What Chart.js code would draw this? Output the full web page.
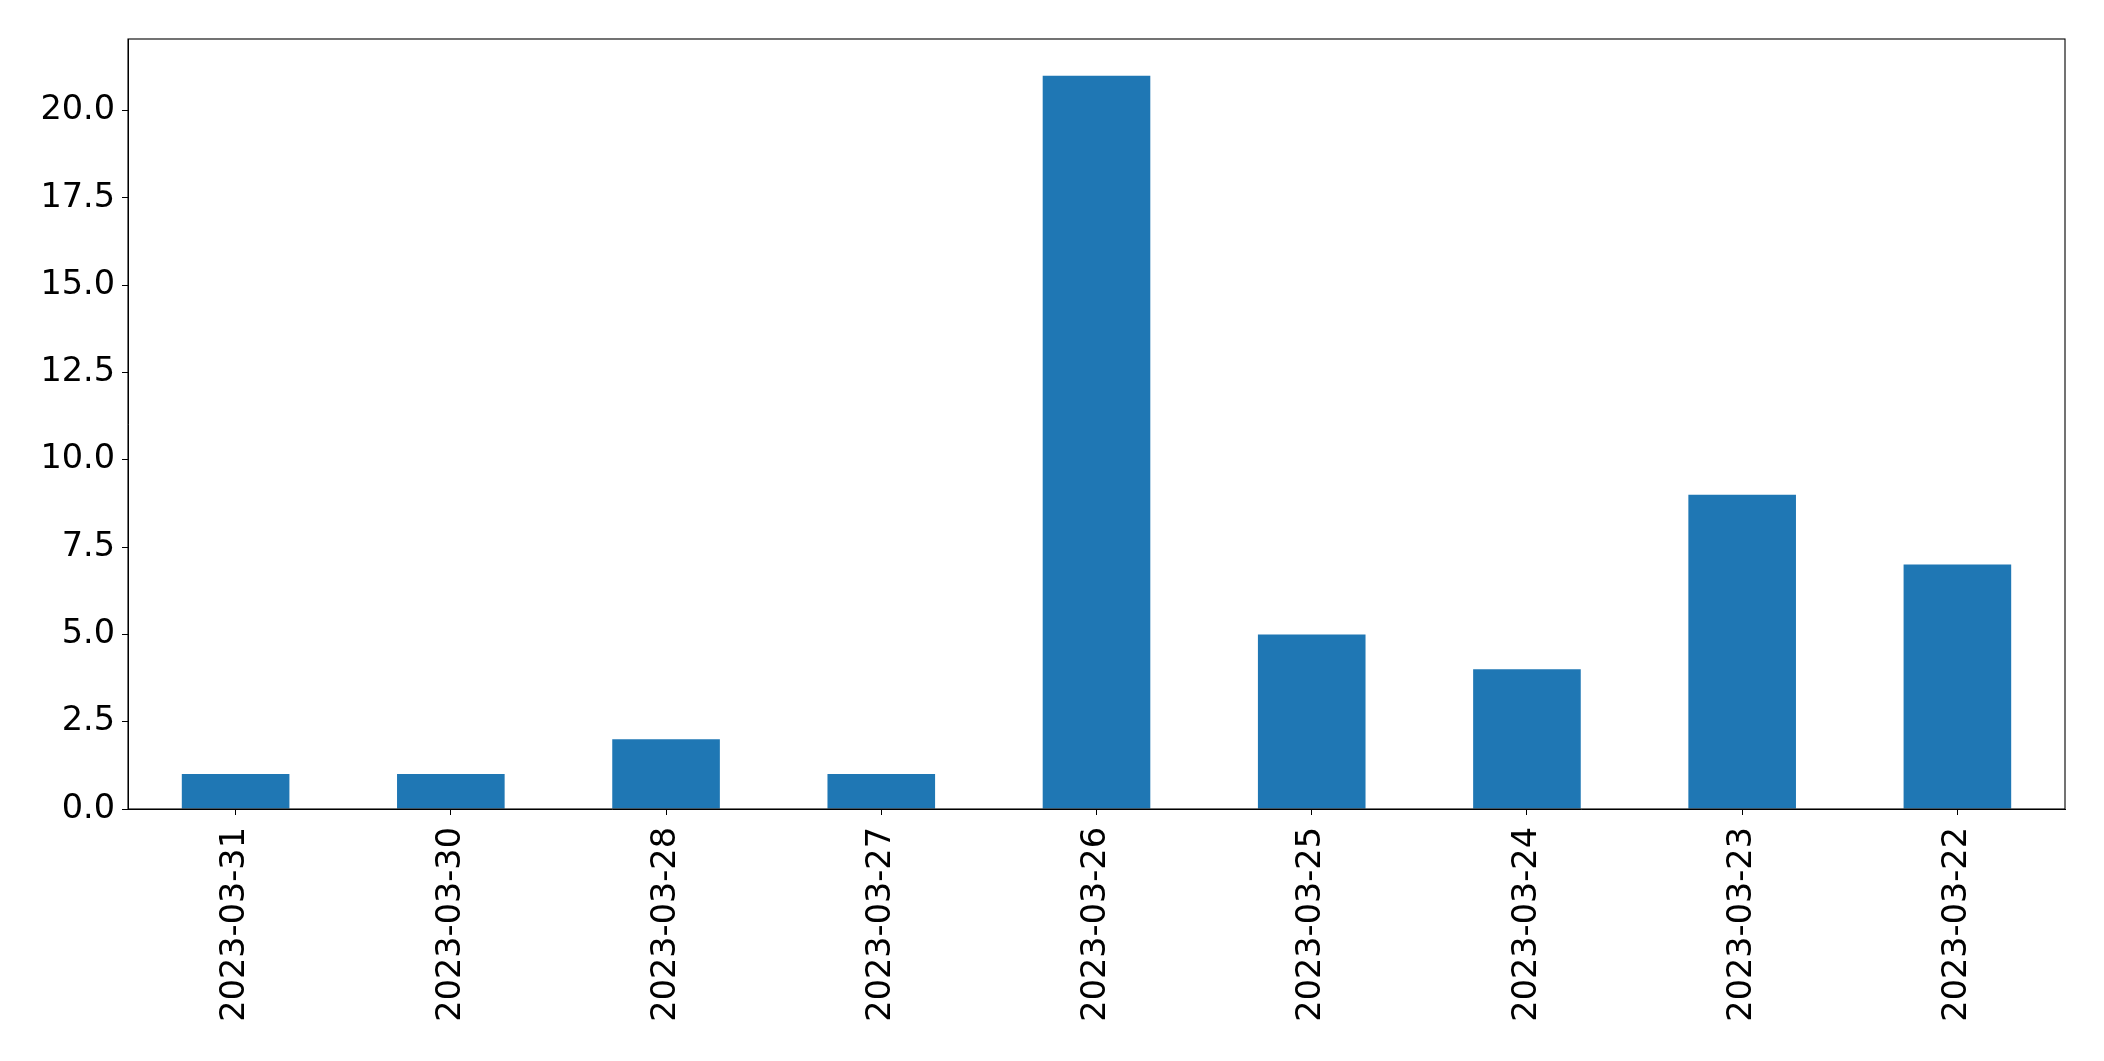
<!DOCTYPE html>
<html>
<head>
<meta charset="utf-8">
<script src="https://cdn.jsdelivr.net/npm/chart.js@4.4.0/dist/chart.umd.min.js"></script>
<style>
  body { margin: 0; background: #fff; }
  canvas { display: block; }
</style>
</head>
<body>
<canvas id="barChart" width="2104" height="1061"></canvas>
<script>
// data
const dates = ['2023-03-31', '2023-03-30', '2023-03-28', '2023-03-27', '2023-03-26',
               '2023-03-25', '2023-03-24', '2023-03-23', '2023-03-22'];
const counts = [1, 1, 2, 1, 21, 5, 4, 9, 7];
const yMax = 22.05;
const yStep = 2.5;

// box around the plot area (matplotlib style frame)
const frame = {
    id: 'frame',
    afterDraw(chart) {
        const a = chart.chartArea;
        const ctx = chart.ctx;
        ctx.save();
        ctx.strokeStyle = '#000';
        ctx.lineWidth = 1.1;
        ctx.strokeRect(a.left, a.top, a.right - a.left, a.bottom - a.top);
        ctx.restore();
    }
};

const ctx = document.getElementById('barChart').getContext('2d');
const barChart = new Chart(ctx, {
    type: 'bar',
    data: {
        labels: dates,
        datasets: [{
            data: counts,
            backgroundColor: '#1f77b4',
            categoryPercentage: 1.0,
            barPercentage: 0.5
        }]
    },
    options: {
        responsive: false,
        animation: false,
        layout: { padding: { top: 39, right: 39, left: 0, bottom: 0 } },
        plugins: {
            legend: { display: false },
            tooltip: { enabled: false }
        },
        scales: {
            x: {
                grid: { offset: false, drawOnChartArea: false, drawTicks: true, tickLength: 6, color: '#000' },
                border: { color: '#000', width: 1 },
                ticks: {
                    color: '#000',
                    font: { family: 'DejaVu Sans', size: 33.5 },
                    minRotation: 90,
                    maxRotation: 90,
                    padding: 12,
                    autoSkip: false
                },
                afterFit: function (scale) { scale.height = 252; }
            },
            y: {
                min: 0,
                max: yMax,
                grid: { drawOnChartArea: false, drawTicks: true, tickLength: 6, color: '#000' },
                border: { color: '#000', width: 1 },
                ticks: {
                    stepSize: yStep,
                    includeBounds: false,
                    color: '#000',
                    font: { family: 'DejaVu Sans', size: 33.5 },
                    padding: 7,
                    callback: function (v) { return v.toFixed(1); }
                },
                afterFit: function (scale) { scale.width = 128; }
            }
        }
    },
    plugins: [frame]
});
</script>
</body>
</html>
